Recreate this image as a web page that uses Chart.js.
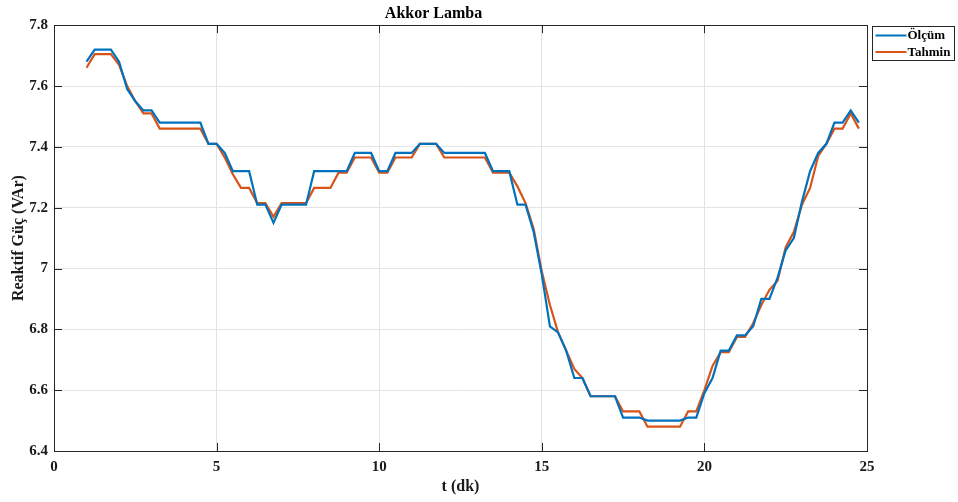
<!DOCTYPE html>
<html>
<head>
<meta charset="utf-8">
<script src="https://cdn.jsdelivr.net/npm/chart.js@4"></script>
<style>
  body { margin: 0; background: #fff; }
  #wrap { width: 958px; height: 502px; position: relative; }
</style>
</head>
<body>
<div id="wrap"><canvas id="akkorChart"></canvas></div>
<script>
// Time axis (minutes)
const timeMin = [1, 1.25, 1.5, 1.75, 2, 2.25, 2.5, 2.75, 3, 3.25, 3.5, 3.75, 4, 4.25, 4.5, 4.75,
  5, 5.25, 5.5, 5.75, 6, 6.25, 6.5, 6.75, 7, 7.25, 7.5, 7.75, 8, 8.25, 8.5, 8.75,
  9, 9.25, 9.5, 9.75, 10, 10.25, 10.5, 10.75, 11, 11.25, 11.5, 11.75, 12, 12.25, 12.5, 12.75,
  13, 13.25, 13.5, 13.75, 14, 14.25, 14.5, 14.75, 15, 15.25, 15.5, 15.75, 16, 16.25, 16.5, 16.75,
  17, 17.25, 17.5, 17.75, 18, 18.25, 18.5, 18.75, 19, 19.25, 19.5, 19.75, 20, 20.25, 20.5, 20.75,
  21, 21.25, 21.5, 21.75, 22, 22.25, 22.5, 22.75, 23, 23.25, 23.5, 23.75, 24, 24.25, 24.5, 24.75];

// Measured reactive power
const olcum = [7.68, 7.72, 7.72, 7.72, 7.68, 7.59, 7.55, 7.52, 7.52, 7.48, 7.48, 7.48,
  7.48, 7.48, 7.48, 7.41, 7.41, 7.38, 7.32, 7.32, 7.32, 7.21, 7.21, 7.15,
  7.21, 7.21, 7.21, 7.21, 7.32, 7.32, 7.32, 7.32, 7.32, 7.38, 7.38, 7.38,
  7.32, 7.32, 7.38, 7.38, 7.38, 7.41, 7.41, 7.41, 7.38, 7.38, 7.38, 7.38,
  7.38, 7.38, 7.32, 7.32, 7.32, 7.21, 7.21, 7.12, 6.98, 6.81, 6.79, 6.73,
  6.64, 6.64, 6.58, 6.58, 6.58, 6.58, 6.51, 6.51, 6.51, 6.50, 6.50, 6.50,
  6.50, 6.50, 6.51, 6.51, 6.59, 6.64, 6.73, 6.73, 6.78, 6.78, 6.81, 6.90,
  6.90, 6.97, 7.06, 7.10, 7.22, 7.32, 7.38, 7.41, 7.48, 7.48, 7.52, 7.48];

// Predicted reactive power
const tahmin = [7.66, 7.705, 7.705, 7.705, 7.67, 7.60, 7.55, 7.51, 7.51, 7.46, 7.46, 7.46,
  7.46, 7.46, 7.46, 7.41, 7.41, 7.365, 7.31, 7.265, 7.265, 7.215, 7.215, 7.17,
  7.215, 7.215, 7.215, 7.215, 7.265, 7.265, 7.265, 7.315, 7.315, 7.365, 7.365, 7.365,
  7.315, 7.315, 7.365, 7.365, 7.365, 7.41, 7.41, 7.41, 7.365, 7.365, 7.365, 7.365,
  7.365, 7.365, 7.315, 7.315, 7.315, 7.27, 7.215, 7.13, 6.99, 6.88, 6.79, 6.73,
  6.67, 6.64, 6.58, 6.58, 6.58, 6.58, 6.53, 6.53, 6.53, 6.48, 6.48, 6.48,
  6.48, 6.48, 6.53, 6.53, 6.60, 6.68, 6.725, 6.725, 6.775, 6.775, 6.82, 6.88,
  6.93, 6.96, 7.07, 7.12, 7.21, 7.265, 7.37, 7.41, 7.46, 7.46, 7.51, 7.46];

const seriesLabels = ['Ölçüm', 'Tahmin'];
const xTicks = [0, 5, 10, 15, 20, 25];
const yTicks = [6.4, 6.6, 6.8, 7, 7.2, 7.4, 7.6, 7.8];

const SERIF = '"Liberation Serif", "Times New Roman", serif';
const AXIS_COLOR = '#262626';

// MATLAB-style box, inward ticks and framed legend
const matlabBox = {
  id: 'matlabBox',
  afterDraw(chart) {
    const { ctx, chartArea: a, scales } = chart;
    ctx.save();
    ctx.strokeStyle = AXIS_COLOR;
    ctx.lineWidth = 1;
    ctx.strokeRect(Math.round(a.left) + 0.5, Math.round(a.top) + 0.5,
      Math.round(a.right - a.left), Math.round(a.bottom - a.top));
    ctx.beginPath();
    scales.x.ticks.forEach(t => {
      const px = Math.round(scales.x.getPixelForValue(t.value)) + 0.5;
      ctx.moveTo(px, a.bottom); ctx.lineTo(px, a.bottom - 8);
      ctx.moveTo(px, a.top); ctx.lineTo(px, a.top + 8);
    });
    scales.y.ticks.forEach(t => {
      const py = Math.round(scales.y.getPixelForValue(t.value)) + 0.5;
      ctx.moveTo(a.left, py); ctx.lineTo(a.left + 8, py);
      ctx.moveTo(a.right, py); ctx.lineTo(a.right - 8, py);
    });
    ctx.stroke();

    // legend
    const lx = Math.round(a.right) + 5.5, ly = Math.round(a.top) + 1.5;
    const lw = 82, lh = 34;
    ctx.fillStyle = '#fff';
    ctx.fillRect(lx, ly, lw, lh);
    ctx.strokeRect(lx, ly, lw, lh);
    ctx.font = 'bold 13px ' + SERIF;
    ctx.textBaseline = 'middle';
    chart.data.datasets.forEach((ds, i) => {
      const yy = ly + 9 + i * 16.5;
      ctx.strokeStyle = ds.borderColor;
      ctx.lineWidth = 2;
      ctx.beginPath();
      ctx.moveTo(lx + 3, yy); ctx.lineTo(lx + 34, yy);
      ctx.stroke();
      ctx.fillStyle = '#000';
      ctx.fillText(ds.label, lx + 35, yy + 0.5);
    });
    ctx.restore();
  }
};

new Chart(document.getElementById('akkorChart'), {
  type: 'line',
  data: {
    datasets: [
      {
        label: seriesLabels[0],
        data: timeMin.map((t, i) => ({ x: t, y: olcum[i] })),
        borderColor: '#0072BD',
        borderWidth: 2.2,
        pointRadius: 0,
        tension: 0
      },
      {
        label: seriesLabels[1],
        data: timeMin.map((t, i) => ({ x: t, y: tahmin[i] })),
        borderColor: '#D95319',
        borderWidth: 2.2,
        pointRadius: 0,
        tension: 0
      }
    ]
  },
  options: {
    responsive: true,
    maintainAspectRatio: false,
    animation: false,
    layout: { padding: { left: 0, right: 91, top: 0, bottom: 0 } },
    plugins: {
      legend: { display: false },
      tooltip: { enabled: false },
      title: {
        display: true,
        text: 'Akkor Lamba',
        color: '#000',
        font: { family: SERIF, size: 16, weight: 'bold' },
        padding: { top: 4, bottom: 2 }
      }
    },
    scales: {
      x: {
        type: 'linear',
        min: 0,
        max: 25,
        afterBuildTicks: s => { s.ticks = xTicks.map(v => ({ value: v })); },
        afterFit: s => { s.height = 51; },
        grid: { color: '#e3e3e3', drawTicks: false },
        border: { display: false },
        ticks: {
          color: '#1a1a1a',
          padding: 7,
          maxRotation: 0,
          font: { family: SERIF, size: 15, weight: 'bold' },
          callback: v => String(v)
        },
        title: {
          display: true,
          text: 't (dk)',
          color: '#1a1a1a',
          font: { family: SERIF, size: 16, weight: 'bold' },
          padding: { top: 0, bottom: 5.4 }
        }
      },
      y: {
        min: 6.4,
        max: 7.8,
        afterBuildTicks: s => { s.ticks = yTicks.map(v => ({ value: v })); },
        afterFit: s => { s.width = 54; },
        grid: { color: '#e3e3e3', drawTicks: false },
        border: { display: false },
        ticks: {
          color: '#1a1a1a',
          padding: 6,
          font: { family: SERIF, size: 15, weight: 'bold' },
          callback: v => String(Number(v.toFixed(1)))
        },
        title: {
          display: true,
          text: 'Reaktif Güç (VAr)',
          color: '#1a1a1a',
          font: { family: SERIF, size: 16, weight: 'bold' },
          padding: { top: 9.4, bottom: 0 }
        }
      }
    }
  },
  plugins: [matlabBox]
});
</script>
</body>
</html>
